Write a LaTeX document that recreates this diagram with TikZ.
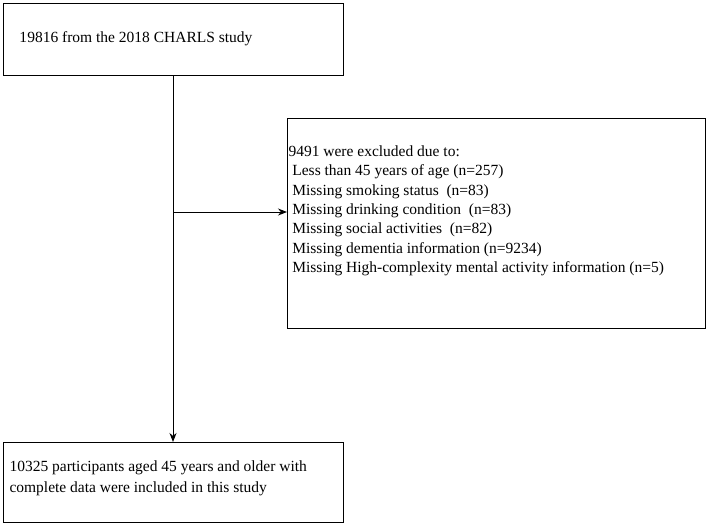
\documentclass[tikz,border=0pt]{standalone}
\usepackage{fontspec}
\setmainfont{Liberation Serif}
\usetikzlibrary{arrows.meta}
\begin{document}
\begin{tikzpicture}[x=1pt,y=-1pt,line width=1pt,
  txt/.style={font=\fontsize{15.5}{19.4}\selectfont,align=left,inner sep=0pt}]
\useasboundingbox (0,0) rectangle (708,525);
\draw (3,3) rectangle (343,75);
\node[txt,anchor=west] (t) at (19,39) {19816 from the 2018 CHARLS study};
\coordinate (top) at (173,75);
\draw (287,118) rectangle (705,328);
\node[txt,anchor=north west] (ex) at (288,145) {9491 were excluded due to:\\
\ Less than 45 years of age (n=257)\\
\ Missing smoking status\ \ (n=83)\\
\ Missing drinking condition\ \ (n=83)\\
\ Missing social activities\ \ (n=82)\\
\ Missing dementia information (n=9234)\\
\ Missing High-complexity mental activity information (n=5)};
\draw (3,442) rectangle (343,522);
\node[txt,anchor=north west] (b) at (9,460) {10325 participants aged 45 years and older with\\[2pt]complete data were included in this study};
\coordinate (bot) at (173,442);
\coordinate (j) at (173,212);
\coordinate (r) at (287,212);
\draw[-{Stealth[length=9pt,width=7pt]}] (top) -- (bot);
\draw[-{Stealth[length=9pt,width=7pt]}] (j) -- (r);
\end{tikzpicture}
\end{document}
